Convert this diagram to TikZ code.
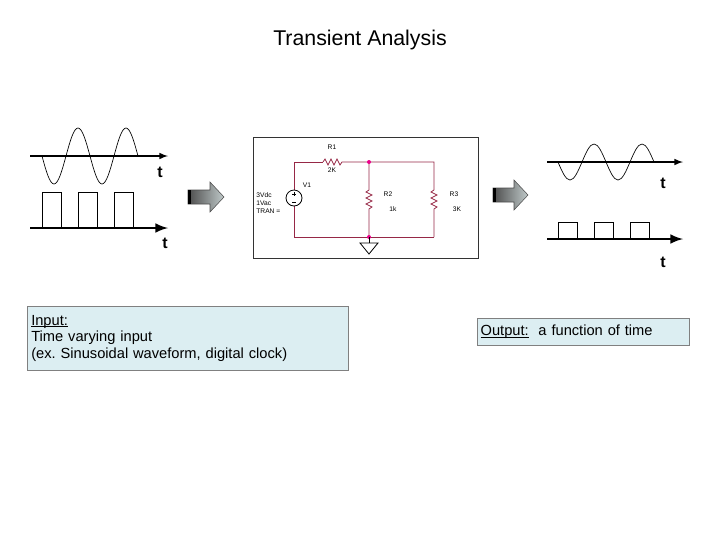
\documentclass[tikz,border=0pt]{standalone}
\usepackage{fontspec}
\setmainfont{Liberation Sans}
\frenchspacing

\definecolor{wire}{RGB}{150,40,70}
\definecolor{boxfill}{RGB}{220,238,242}

\newcommand\ulined[1]{\leavevmode\setbox0\hbox{#1}\rlap{\rule[-1.5pt]{\wd0}{0.5pt}}\box0}

\tikzset{
  axis/.style={line width=1.2pt, -latex},
  fataxis/.style={line width=2.2pt, -latex},
  wave/.style={line width=0.5pt},
  tlabel/.style={font=\bfseries\large},
  bigarrow/.style={draw=black!70, left color=black!70, right color=cyan!15!black!25},
  textbox/.style={draw=gray, fill=boxfill, align=left, font=\fontsize{11}{12.5}\selectfont, inner sep=2pt},
  res/.style={font=\fontsize{5}{6}\selectfont},
}

\begin{document}
\begin{tikzpicture}[x=0.75pt, y=-0.75pt]
\useasboundingbox (0,0) rectangle (720,540);
\node (title) at (360,40) {\fontsize{16}{18}\selectfont Transient Analysis};

% input signals
\draw [axis] (30,156) -- (168,156);
\draw [wave] (42,156) sin (54,184) cos (66,156) sin (78,128) cos (90,156) sin (102,184) cos (114,156) sin (126,128) cos (138,156);
\node [tlabel] (tin1) at (160,172) {t};
\draw [fataxis] (30,228) -- (168,228);
\foreach \x in {42,78,114}
  \draw [wave] (\x,228) -- (\x,192) -- ++(19,0) -- ++(0,36);
\node [tlabel] (tin2) at (165,243) {t};
\draw [bigarrow] (188,190) -- (210,190) -- (210,182) -- (224,197) -- (210,212) -- (210,204) -- (188,204) -- cycle;
\fill [black] (188,190) rectangle (191,204);

% circuit
\draw [line width=0.6pt, black!80] (253,137) rectangle (478,258);
\begin{scope}[wire, line width=0.6pt]
\draw (294,190) -- (294,162) -- (323,162);
\draw (323,162) -- ++(2,-3) -- ++(3,6) -- ++(3,-6) -- ++(3,6) -- ++(3,-6) -- ++(3,6) -- ++(2,-3) -- (434,162) -- (434,190);
\draw (434,190) -- ++(-3,2) -- ++(6,3) -- ++(-6,3) -- ++(6,3) -- ++(-6,3) -- ++(6,3) -- ++(-3,2) -- (434,237);
\draw (369,162) -- (369,190) -- ++(-3,2) -- ++(6,3) -- ++(-6,3) -- ++(6,3) -- ++(-6,3) -- ++(6,3) -- ++(-3,2) -- (369,237);
\draw (294,206) -- (294,237) -- (434,237);
\end{scope}
\draw [line width=0.6pt] (294,198) circle (6pt);
\draw [line width=0.4pt] (292,194) -- (296,194) (294,192) -- (294,196) (292,202) -- (296,202);
\fill [magenta] (369,162) circle (1.5pt) (369,237) circle (1.5pt);
\draw [line width=0.6pt] (369,237) -- (369,243);
\draw [line width=0.6pt, fill=white] (360,243) -- (378,243) -- (369,254) -- cycle;
\node [res] (r1) at (332,147) {R1};
\node [res] (r1v) at (332,170) {2K};
\node [res] (v1) at (307,185) {V1};
\node [res, align=left, anchor=east] (v1v) at (285,203) {3Vdc\\1Vac\\TRAN =};
\node [res] (r2) at (388,194) {R2};
\node [res] (r2v) at (393,209) {1k};
\node [res] (r3) at (454,194) {R3};
\node [res] (r3v) at (457,209) {3K};

% output signals
\draw [bigarrow] (493,188) -- (514,188) -- (514,180) -- (528,195) -- (514,210) -- (514,202) -- (493,202) -- cycle;
\fill [black] (493,188) rectangle (496,202);
\draw [axis] (547,162) -- (683,162);
\draw [wave] (558,162) sin (570,180) cos (582,162) sin (594,144) cos (606,162) sin (618,180) cos (630,162) sin (642,144) cos (654,162);
\node [tlabel] (tout1) at (663,183) {t};
\draw [fataxis] (547,239) -- (683,239);
\foreach \x in {558,594,630}
  \draw [wave] (\x,239) -- (\x,222) -- ++(19,0) -- ++(0,17);
\node [tlabel] (tout2) at (663,262) {t};

% text boxes
\node [textbox, anchor=north west, minimum width=241pt, minimum height=48pt, text width=235pt] (inbox) at (27,306)
  {\raggedright\ulined{Input:}\\Time varying input\\(ex. Sinusoidal waveform, digital clock)};
\node [textbox, anchor=north west, minimum width=159pt, minimum height=20pt, text width=154pt] (outbox) at (477,318)
  {\raggedright\ulined{Output:}\ \ a function of time};
\end{tikzpicture}
\end{document}
